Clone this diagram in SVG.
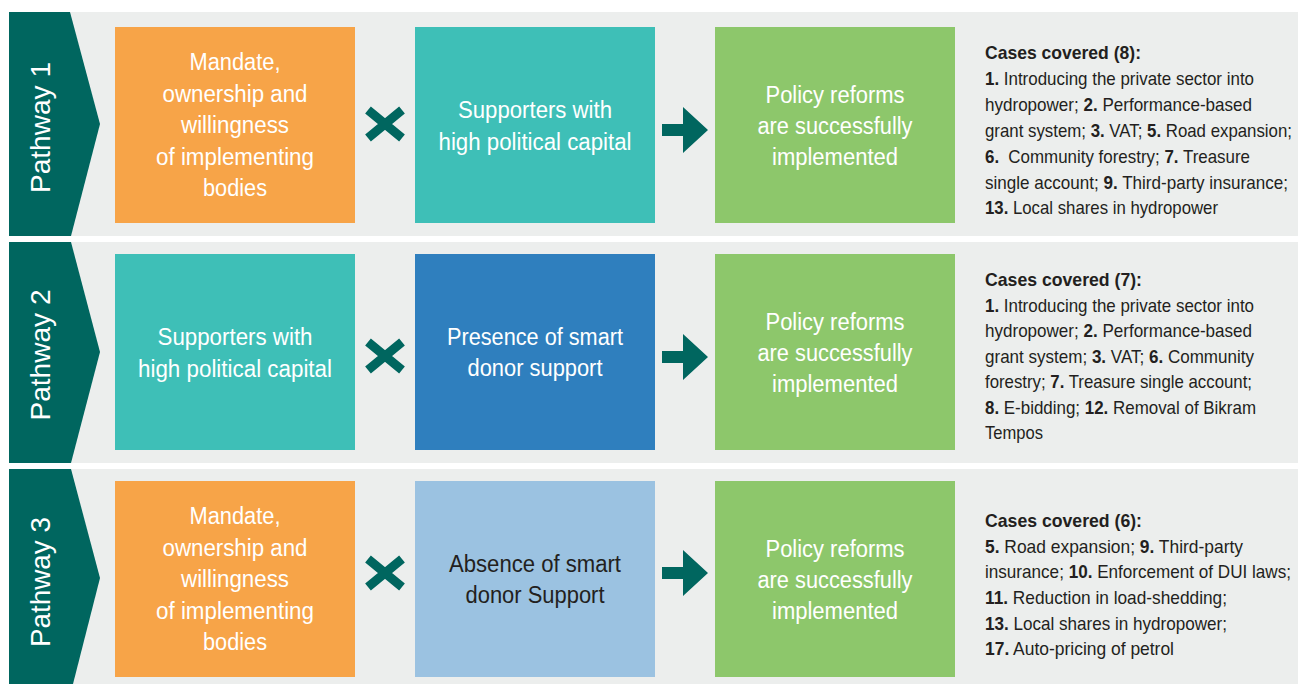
<svg xmlns="http://www.w3.org/2000/svg" width="1298" height="684" viewBox="0 0 1298 684">
<defs>
<style>
.panel{fill:#ECEEED}
.chev{fill:#00665F}
.plabel{font-family:"Liberation Sans",Arial,sans-serif;font-size:28px;fill:#fff;text-anchor:middle}
.bt{font-family:"Liberation Sans",Arial,sans-serif;font-size:23.5px;fill:#fff;text-anchor:middle}
.bt.dark{fill:#231F20}
.ct{font-family:"Liberation Sans",Arial,sans-serif;font-size:18.5px;fill:#231F20}
.b{font-weight:bold}
.x{stroke:#00665F;stroke-width:9;fill:none}
.arr{fill:#00665F}
.orange{fill:#F7A448}
.teal{fill:#3EBFB7}
.green{fill:#8DC76B}
.blue{fill:#2F7FBE}
.lblue{fill:#9BC2E1}
</style>
<g id="xicon"><path class="x" d="M-17,-14 L17,14 M17,-14 L-17,14"/></g>
<g id="arrow"><path class="arr" d="M-23,-6 H-2 V-23 L23,0 L-2,23 V6 H-23 Z"/></g>
</defs>
<rect width="1298" height="684" fill="#ffffff"/>

<g id="row1">
<rect class="panel" x="9" y="12" width="1289" height="224"/>
<polygon class="chev" points="9,12 70,12 100,124 71,236 9,236"/>
<text class="plabel" transform="translate(50,127.5) rotate(-90)" textLength="131" lengthAdjust="spacingAndGlyphs">Pathway 1</text>
</g>
<g id="row2">
<rect class="panel" x="9" y="242" width="1289" height="221"/>
<polygon class="chev" points="9,242 71,242 100,352 71,463 9,463"/>
<text class="plabel" transform="translate(50,355) rotate(-90)" textLength="131" lengthAdjust="spacingAndGlyphs">Pathway 2</text>
</g>
<g id="row3">
<rect class="panel" x="9" y="469" width="1289" height="215"/>
<polygon class="chev" points="9,469 71,469 100,578 73,684 9,684"/>
<text class="plabel" transform="translate(50,582) rotate(-90)" textLength="130" lengthAdjust="spacingAndGlyphs">Pathway 3</text>
</g>

<g id="p1-mandate">
<rect class="orange" x="115" y="27" width="240" height="196"/>
<text class="bt" x="235" y="70" textLength="91" lengthAdjust="spacingAndGlyphs">Mandate,</text>
<text class="bt" x="235" y="101.5" textLength="145" lengthAdjust="spacingAndGlyphs">ownership and</text>
<text class="bt" x="235" y="133" textLength="108" lengthAdjust="spacingAndGlyphs">willingness</text>
<text class="bt" x="235" y="164.5" textLength="158" lengthAdjust="spacingAndGlyphs">of implementing</text>
<text class="bt" x="235" y="196" textLength="64" lengthAdjust="spacingAndGlyphs">bodies</text>
</g>
<g id="p1-supporters">
<rect class="teal" x="415" y="27" width="240" height="196"/>
<text class="bt" x="535" y="118" textLength="154" lengthAdjust="spacingAndGlyphs">Supporters with</text>
<text class="bt" x="535" y="149.5" textLength="193" lengthAdjust="spacingAndGlyphs">high political capital</text>
</g>
<g id="p1-policy">
<rect class="green" x="715" y="27" width="240" height="196"/>
<text class="bt" x="835" y="103" textLength="139" lengthAdjust="spacingAndGlyphs">Policy reforms</text>
<text class="bt" x="835" y="134" textLength="155" lengthAdjust="spacingAndGlyphs">are successfully</text>
<text class="bt" x="835" y="165" textLength="126" lengthAdjust="spacingAndGlyphs">implemented</text>
</g>
<g id="p1-cases">
<text class="ct b" x="985" y="59" textLength="156" lengthAdjust="spacingAndGlyphs">Cases covered (8):</text>
<text class="ct" x="985" y="85" textLength="269" lengthAdjust="spacingAndGlyphs"><tspan class="b">1.</tspan> Introducing the private sector into</text>
<text class="ct" x="985" y="111" textLength="267" lengthAdjust="spacingAndGlyphs">hydropower; <tspan class="b">2.</tspan> Performance-based</text>
<text class="ct" x="985" y="137" textLength="307" lengthAdjust="spacingAndGlyphs">grant system; <tspan class="b">3.</tspan> VAT; <tspan class="b">5.</tspan> Road expansion;</text>
<text class="ct" x="985" y="163" textLength="265" lengthAdjust="spacingAndGlyphs"><tspan class="b">6.</tspan><tspan dx="5"> Community forestry; </tspan><tspan class="b">7.</tspan> Treasure</text>
<text class="ct" x="985" y="189" textLength="303" lengthAdjust="spacingAndGlyphs">single account; <tspan class="b">9.</tspan> Third-party insurance;</text>
<text class="ct" x="985" y="214" textLength="233" lengthAdjust="spacingAndGlyphs"><tspan class="b">13.</tspan> Local shares in hydropower</text>
</g>

<g id="p2-supporters">
<rect class="teal" x="115" y="254" width="240" height="196"/>
<text class="bt" x="235" y="345" textLength="155" lengthAdjust="spacingAndGlyphs">Supporters with</text>
<text class="bt" x="235" y="376.5" textLength="194" lengthAdjust="spacingAndGlyphs">high political capital</text>
</g>
<g id="p2-smart">
<rect class="blue" x="415" y="254" width="240" height="196"/>
<text class="bt" x="535" y="345" textLength="176" lengthAdjust="spacingAndGlyphs">Presence of smart</text>
<text class="bt" x="535" y="376" textLength="135" lengthAdjust="spacingAndGlyphs">donor support</text>
</g>
<g id="p2-policy">
<rect class="green" x="715" y="254" width="240" height="196"/>
<text class="bt" x="835" y="330" textLength="139" lengthAdjust="spacingAndGlyphs">Policy reforms</text>
<text class="bt" x="835" y="361" textLength="155" lengthAdjust="spacingAndGlyphs">are successfully</text>
<text class="bt" x="835" y="392" textLength="126" lengthAdjust="spacingAndGlyphs">implemented</text>
</g>
<g id="p2-cases">
<text class="ct b" x="985" y="286" textLength="157" lengthAdjust="spacingAndGlyphs">Cases covered (7):</text>
<text class="ct" x="985" y="311.5" textLength="269" lengthAdjust="spacingAndGlyphs"><tspan class="b">1.</tspan> Introducing the private sector into</text>
<text class="ct" x="985" y="337" textLength="267" lengthAdjust="spacingAndGlyphs">hydropower; <tspan class="b">2.</tspan> Performance-based</text>
<text class="ct" x="985" y="362.5" textLength="269" lengthAdjust="spacingAndGlyphs">grant system; <tspan class="b">3.</tspan> VAT; <tspan class="b">6.</tspan> Community</text>
<text class="ct" x="985" y="388" textLength="267" lengthAdjust="spacingAndGlyphs">forestry; <tspan class="b">7.</tspan> Treasure single account;</text>
<text class="ct" x="985" y="414" textLength="271" lengthAdjust="spacingAndGlyphs"><tspan class="b">8.</tspan> E-bidding; <tspan class="b">12.</tspan> Removal of Bikram</text>
<text class="ct" x="985" y="439" textLength="58" lengthAdjust="spacingAndGlyphs">Tempos</text>
</g>

<g id="p3-mandate">
<rect class="orange" x="115" y="481" width="240" height="196"/>
<text class="bt" x="235" y="524" textLength="91" lengthAdjust="spacingAndGlyphs">Mandate,</text>
<text class="bt" x="235" y="555.5" textLength="145" lengthAdjust="spacingAndGlyphs">ownership and</text>
<text class="bt" x="235" y="587" textLength="108" lengthAdjust="spacingAndGlyphs">willingness</text>
<text class="bt" x="235" y="618.5" textLength="158" lengthAdjust="spacingAndGlyphs">of implementing</text>
<text class="bt" x="235" y="650" textLength="64" lengthAdjust="spacingAndGlyphs">bodies</text>
</g>
<g id="p3-absence">
<rect class="lblue" x="415" y="481" width="240" height="196"/>
<text class="bt dark" x="535" y="572" textLength="172" lengthAdjust="spacingAndGlyphs">Absence of smart</text>
<text class="bt dark" x="535" y="603" textLength="139" lengthAdjust="spacingAndGlyphs">donor Support</text>
</g>
<g id="p3-policy">
<rect class="green" x="715" y="481" width="240" height="196"/>
<text class="bt" x="835" y="557" textLength="139" lengthAdjust="spacingAndGlyphs">Policy reforms</text>
<text class="bt" x="835" y="588" textLength="155" lengthAdjust="spacingAndGlyphs">are successfully</text>
<text class="bt" x="835" y="619" textLength="126" lengthAdjust="spacingAndGlyphs">implemented</text>
</g>
<g id="p3-cases">
<text class="ct b" x="985" y="527" textLength="157" lengthAdjust="spacingAndGlyphs">Cases covered (6):</text>
<text class="ct" x="985" y="552.5" textLength="258" lengthAdjust="spacingAndGlyphs"><tspan class="b">5.</tspan> Road expansion; <tspan class="b">9.</tspan> Third-party</text>
<text class="ct" x="985" y="578" textLength="306" lengthAdjust="spacingAndGlyphs">insurance; <tspan class="b">10.</tspan> Enforcement of DUI laws;</text>
<text class="ct" x="985" y="604" textLength="242" lengthAdjust="spacingAndGlyphs"><tspan class="b">11.</tspan> Reduction in load-shedding;</text>
<text class="ct" x="985" y="630" textLength="242" lengthAdjust="spacingAndGlyphs"><tspan class="b">13.</tspan> Local shares in hydropower;</text>
<text class="ct" x="985" y="655" textLength="189" lengthAdjust="spacingAndGlyphs"><tspan class="b">17.</tspan> Auto-pricing of petrol</text>
</g>

<g id="connectors">
<use href="#xicon" x="385" y="124"/>
<use href="#arrow" x="685" y="130"/>
<use href="#xicon" x="385" y="356"/>
<use href="#arrow" x="685" y="357"/>
<use href="#xicon" x="385" y="573"/>
<use href="#arrow" x="685" y="573"/>
</g>
</svg>
